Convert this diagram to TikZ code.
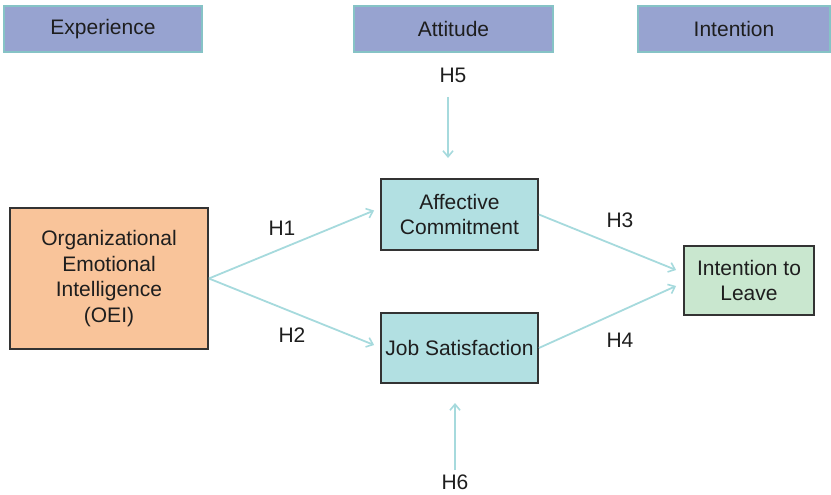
\documentclass[tikz,border=0pt]{standalone}
\usepackage{fontspec}
\setmainfont{Liberation Sans}
\usetikzlibrary{arrows.meta,calc}
\definecolor{hdrfill}{HTML}{97A3D0}
\definecolor{hdrline}{HTML}{86C3C6}
\definecolor{oeifill}{HTML}{F9C49A}
\definecolor{tealfill}{HTML}{B2E0E2}
\definecolor{greenfill}{HTML}{C9E7CF}
\definecolor{arrowc}{HTML}{A6DADD}
\definecolor{boxline}{HTML}{333333}
\definecolor{txt}{HTML}{1E1E1E}
\begin{document}
\begin{tikzpicture}[x=1pt,y=-1pt,
  every node/.style={text=txt,font=\fontsize{21}{25.5}\selectfont,align=center,inner sep=0pt},
  hdr/.style={fill=hdrfill,draw=hdrline,line width=1.5pt,minimum height=46pt},
  mainbox/.style={draw=boxline,line width=1.8pt},
  conn/.style={draw=arrowc,line width=1.8pt,-{Straight Barb[length=6pt,width=10pt,line width=1.6pt]}}]
\useasboundingbox (0,0) rectangle (831,495);
% headers
\node[hdr,minimum width=198pt] (exp) at (103,29) {Experience};
\node[hdr,minimum width=199pt] (att) at (453.5,29) {Attitude};
\node[hdr,minimum width=192pt] (int) at (734,29) {Intention};
% main boxes
\node[mainbox,fill=oeifill,minimum width=198pt,minimum height=141pt] (oei) at (109,278.5)
  {Organizational\\Emotional\\Intelligence\\(OEI)};
\node[mainbox,fill=tealfill,minimum width=157pt,minimum height=71pt] (ac) at (459.5,214.5)
  {Affective\\Commitment};
\node[mainbox,fill=tealfill,minimum width=157pt,minimum height=70pt] (js) at (459.5,348)
  {Job Satisfaction};
\node[mainbox,fill=greenfill,minimum width=130pt,minimum height=69pt] (il) at (749,280.5)
  {Intention to\\Leave};
% labels
\node (h1) at (282,228) {H1};
\node (h2) at (292,335) {H2};
\node (h3) at (620,220) {H3};
\node (h4) at (620,340) {H4};
\node (h5) at (453,75) {H5};
\node (h6) at (455,482) {H6};
% connector end points
\coordinate (acin) at ($(ac.west)+(-6,-4)$);
\coordinate (jsin) at ($(js.west)+(-6,-3)$);
\coordinate (ilin1) at ($(il.west)+(-7,-10.5)$);
\coordinate (ilin2) at ($(il.west)+(-7,5.5)$);
\coordinate (h5s) at (448,97);
\coordinate (h5e) at (448,158);
\coordinate (h6s) at (455,470);
\coordinate (h6e) at (455,403);
% connectors
\draw[conn] (oei.east) -- (acin);
\draw[conn] (oei.east) -- (jsin);
\draw[conn] (ac.east) -- (ilin1);
\draw[conn] (js.east) -- (ilin2);
\draw[conn] (h5s) -- (h5e);
\draw[conn] (h6s) -- (h6e);
\end{tikzpicture}
\end{document}
